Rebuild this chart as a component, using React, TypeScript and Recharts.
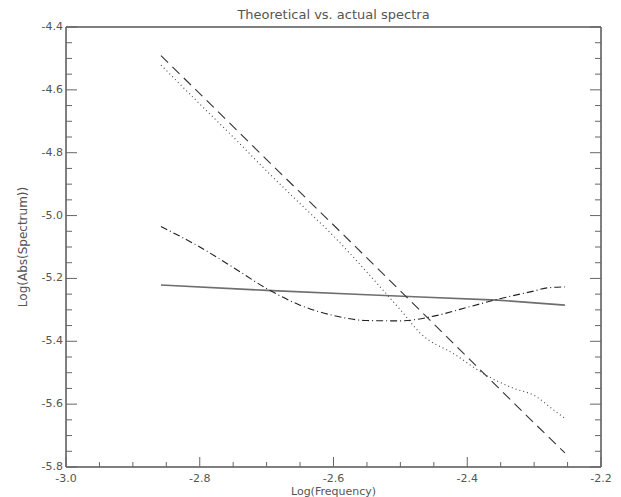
import React from "react";
import { LineChart, Line, XAxis, YAxis, Label } from "recharts";

// ---- tick values ----
const xMajorTicks = [-3.0, -2.8, -2.6, -2.4, -2.2];
const xMinorTicks = [-2.95, -2.9, -2.85, -2.75, -2.7, -2.65, -2.55, -2.5, -2.45, -2.35, -2.3, -2.25];
const yMajorTicks = [-5.8, -5.6, -5.4, -5.2, -5.0, -4.8, -4.6, -4.4];
const yMinorTicks = [
  -5.75, -5.7, -5.65, -5.55, -5.5, -5.45, -5.35, -5.3, -5.25, -5.15, -5.1, -5.05,
  -4.95, -4.9, -4.85, -4.75, -4.7, -4.65, -4.55, -4.5, -4.45,
];

// ---- series: solid (theoretical fit) ----
const solidFreq = [-2.858, -2.7, -2.55, -2.47, -2.355, -2.254];
const solidSpec = [-5.221, -5.238, -5.252, -5.259, -5.269, -5.285];

// ---- series: dashed (power law) ----
const dashedFreq = [-2.858, -2.8, -2.7, -2.6, -2.5, -2.4, -2.3, -2.254];
const dashedSpec = [-4.491, -4.612, -4.822, -5.03, -5.24, -5.45, -5.66, -5.755];

// ---- series: dotted (actual spectrum) ----
const dottedFreq = [-2.858, -2.8, -2.75, -2.7, -2.65, -2.6, -2.55, -2.5, -2.47, -2.42, -2.37, -2.33, -2.3, -2.27, -2.254];
const dottedSpec = [-4.521, -4.645, -4.75, -4.858, -4.962, -5.065, -5.18, -5.3, -5.375, -5.44, -5.51, -5.55, -5.572, -5.62, -5.645];

// ---- series: dash-dot (smoothed spectrum) ----
const dashDotFreq = [-2.858, -2.8, -2.75, -2.7, -2.65, -2.6, -2.55, -2.5, -2.45, -2.4, -2.35, -2.3, -2.28, -2.254];
const dashDotSpec = [-5.035, -5.1, -5.165, -5.232, -5.285, -5.318, -5.334, -5.335, -5.32, -5.292, -5.264, -5.24, -5.23, -5.227];

const toData = (xs: number[], ys: number[]) => xs.map((f, i) => ({ f, v: ys[i] }));
const solidData = toData(solidFreq, solidSpec);
const dashedData = toData(dashedFreq, dashedSpec);
const dottedData = toData(dottedFreq, dottedSpec);
const dashDotData = toData(dashDotFreq, dashDotSpec);

const xTicks = [...xMajorTicks, ...xMinorTicks].sort((a, b) => a - b);
const yTicks = [...yMajorTicks, ...yMinorTicks].sort((a, b) => a - b);

const isMajor = (v: number, list: number[]) => list.some((m) => Math.abs(m - v) < 1e-9);
const fmt = (v: number) => v.toFixed(1);

const FONT = "'DejaVu Sans', sans-serif";
const TEXT = "#555";
const TICK = "#666";

const BottomTick = (p: any) => {
  const { x, y, payload } = p;
  const major = isMajor(payload.value, xMajorTicks);
  return (
    <g>
      <line x1={x} y1={y} x2={x} y2={y - (major ? 10 : 5)} stroke={TICK} strokeWidth={1} />
      {major && (
        <text x={x} y={y + 15} textAnchor="middle" fontSize={11} fontFamily={FONT} fill={TEXT}>
          {fmt(payload.value)}
        </text>
      )}
    </g>
  );
};

const TopTick = (p: any) => {
  const { x, y, payload } = p;
  const major = isMajor(payload.value, xMajorTicks);
  return <line x1={x} y1={y} x2={x} y2={y + (major ? 10 : 5)} stroke={TICK} strokeWidth={1} />;
};

const LeftTick = (p: any) => {
  const { x, y, payload } = p;
  const major = isMajor(payload.value, yMajorTicks);
  return (
    <g>
      <line x1={x} y1={y} x2={x + (major ? 11 : 6)} y2={y} stroke={TICK} strokeWidth={1} />
      {major && (
        <text x={x - 3} y={y + 3} textAnchor="end" fontSize={11} fontFamily={FONT} fill={TEXT}>
          {fmt(payload.value)}
        </text>
      )}
    </g>
  );
};

const RightTick = (p: any) => {
  const { x, y, payload } = p;
  const major = isMajor(payload.value, yMajorTicks);
  return <line x1={x} y1={y} x2={x - (major ? 11 : 6)} y2={y} stroke={TICK} strokeWidth={1} />;
};

const YTitle = (p: any) => {
  const vb = p.viewBox || {};
  const cx = (vb.x ?? 65) - 42;
  const cy = (vb.y ?? 27) + (vb.height ?? 440) / 2;
  return (
    <text
      x={cx}
      y={cy}
      transform={`rotate(-90, ${cx}, ${cy})`}
      textAnchor="middle"
      dominantBaseline="central"
      fontSize={12}
      fontFamily={FONT}
      fill={TEXT}
    >
      Log(Abs(Spectrum))
    </text>
  );
};

const axisLine = { stroke: "#555", strokeWidth: 1.5 };

export default function App() {
  return (
    <div style={{ position: "absolute", left: 0, top: 0, width: 621, height: 497, background: "#fff" }}>
      <LineChart width={621} height={497} margin={{ top: 26, right: 19, bottom: 29, left: 65 }}>
        <XAxis
          xAxisId="b"
          dataKey="f"
          type="number"
          orientation="bottom"
          domain={[-3.0, -2.2]}
          allowDataOverflow
          ticks={xTicks}
          interval={0}
          height={1}
          tickSize={0}
          tickMargin={0}
          tickLine={false}
          axisLine={axisLine}
          tick={<BottomTick />}
        >
          <Label value="Log(Frequency)" position="bottom" offset={19} fontSize={11} fontFamily={FONT} fill={TEXT} />
        </XAxis>
        <XAxis
          xAxisId="t"
          type="number"
          orientation="top"
          domain={[-3.0, -2.2]}
          allowDataOverflow
          ticks={xTicks}
          interval={0}
          height={1}
          tickSize={0}
          tickMargin={0}
          tickLine={false}
          axisLine={axisLine}
          tick={<TopTick />}
        >
          <Label value="Theoretical vs. actual spectra" position="top" offset={7} fontSize={13} fontFamily={FONT} fill={TEXT} />
        </XAxis>
        <YAxis
          yAxisId="l"
          dataKey="v"
          type="number"
          orientation="left"
          domain={[-5.8, -4.4]}
          allowDataOverflow
          ticks={yTicks}
          interval={0}
          width={1}
          tickSize={0}
          tickMargin={0}
          tickLine={false}
          axisLine={axisLine}
          tick={<LeftTick />}
        >
          <Label content={<YTitle />} />
        </YAxis>
        <YAxis
          yAxisId="r"
          type="number"
          orientation="right"
          domain={[-5.8, -4.4]}
          allowDataOverflow
          ticks={yTicks}
          interval={0}
          width={1}
          tickSize={0}
          tickMargin={0}
          tickLine={false}
          axisLine={axisLine}
          tick={<RightTick />}
        />
        <Line
          xAxisId="b"
          yAxisId="l"
          data={solidData}
          dataKey="v"
          type="linear"
          stroke="#6e6e6e"
          strokeWidth={1.6}
          dot={false}
          isAnimationActive={false}
        />
        <Line
          xAxisId="b"
          yAxisId="l"
          data={dashedData}
          dataKey="v"
          type="linear"
          stroke="#333"
          strokeWidth={1.1}
          strokeDasharray="10 6"
          dot={false}
          isAnimationActive={false}
        />
        <Line
          xAxisId="b"
          yAxisId="l"
          data={dottedData}
          dataKey="v"
          type="monotone"
          stroke="#444"
          strokeWidth={1.1}
          strokeDasharray="1 3"
          dot={false}
          isAnimationActive={false}
        />
        <Line
          xAxisId="b"
          yAxisId="l"
          data={dashDotData}
          dataKey="v"
          type="monotone"
          stroke="#222"
          strokeWidth={1.1}
          strokeDasharray="7 3 1 3"
          dot={false}
          isAnimationActive={false}
        />
      </LineChart>
    </div>
  );
}
